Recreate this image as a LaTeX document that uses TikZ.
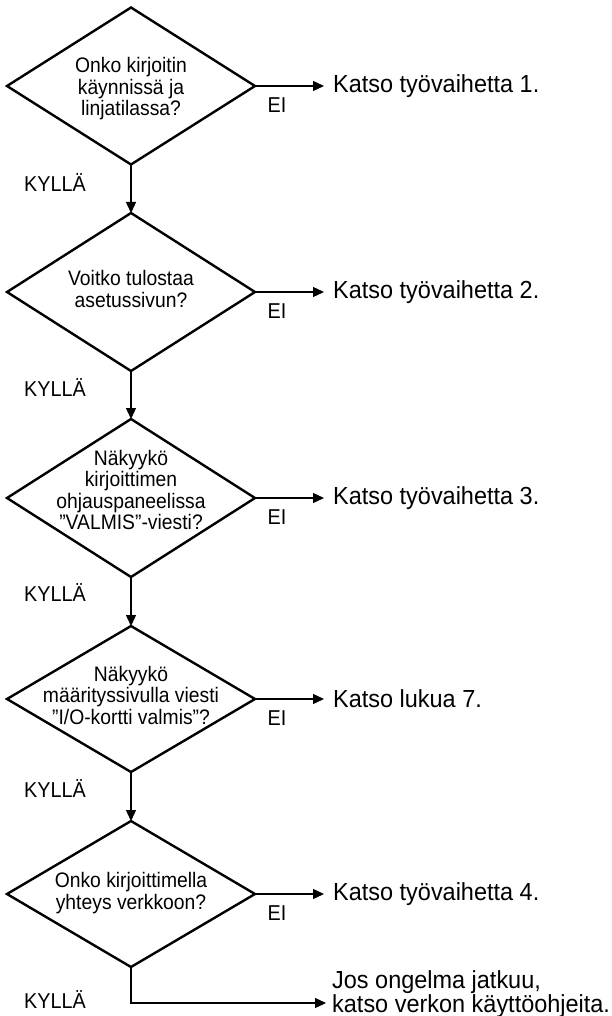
\documentclass[tikz,border=0pt]{standalone}
\usepackage{fontspec}
\setmainfont{Liberation Sans}
\newfontfamily\condfont{Liberation Sans}[FakeStretch=0.92]
\newfontfamily\resfont{Liberation Sans}[FakeStretch=0.95]
\usetikzlibrary{shapes.geometric,arrows.meta}
\begin{document}
\begin{tikzpicture}[x=1pt,y=-1pt,
  dia/.style={draw=black, line width=2.4pt, shape=diamond, minimum width=248pt, inner sep=0pt, outer sep=0pt},
  qtext/.style={align=center, font=\condfont\fontsize{21}{21.5}\selectfont, inner sep=0pt},
  res/.style={anchor=west, font=\resfont\fontsize{24.7}{23}\selectfont, inner sep=0pt, align=left},
  lbl/.style={font=\condfont\fontsize{21.5}{21}\selectfont, inner sep=0pt},
  arr/.style={draw=black, line width=1.3pt, -{Triangle[length=11pt,width=10pt]}},
]
\useasboundingbox (0,0) rectangle (611,1016);

% diamonds
\node[dia, minimum height=157pt] (d1) at (131,86) {};
\node[dia, minimum height=158pt] (d2) at (131,292) {};
\node[dia, minimum height=158pt] (d3) at (131,498) {};
\node[dia, minimum height=146pt] (d4) at (131,699) {};
\node[dia, minimum height=146pt] (d5) at (131,894) {};

% question texts
\node[qtext] (q1) at (131,89) {Onko kirjoitin\\käynnissä ja\\linjatilassa?};
\node[qtext] (q2) at (131,289) {Voitko tulostaa\\asetussivun?};
\node[qtext] (q3) at (131,490) {Näkyykö\\kirjoittimen\\ohjauspaneelissa\\”VALMIS”-viesti?};
\node[qtext] (q4) at (131,695) {Näkyykö\\määrityssivulla viesti\\”I/O-kortti valmis”?};
\node[qtext] (q5) at (131,893) {Onko kirjoittimella\\yhteys verkkoon?};

% result texts
\node[res] (t1) at (333,86) {Katso työvaihetta 1.};
\node[res] (t2) at (333,292) {Katso työvaihetta 2.};
\node[res] (t3) at (333,498) {Katso työvaihetta 3.};
\node[res] (t4) at (333,699) {Katso lukua 7.};
\node[res] (t5) at (333,894) {Katso työvaihetta 4.};
\node[res] (t6) at (332,994) {Jos ongelma jatkuu,\\katso verkon käyttöohjeita.};

% EI labels
\node[lbl] (e1) at (277,105) {EI};
\node[lbl] (e2) at (277,311) {EI};
\node[lbl] (e3) at (277,517) {EI};
\node[lbl] (e4) at (277,718) {EI};
\node[lbl] (e5) at (277,913) {EI};

% KYLLÄ labels
\node[lbl] (k1) at (55,183) {KYLLÄ};
\node[lbl] (k2) at (55,388) {KYLLÄ};
\node[lbl] (k3) at (55,592) {KYLLÄ};
\node[lbl] (k4) at (55,788) {KYLLÄ};
\node[lbl] (k5) at (55,999) {KYLLÄ};

% connectors
\draw[arr] (d1.south) -- (d2.north);
\draw[arr] (d2.south) -- (d3.north);
\draw[arr] (d3.south) -- (d4.north);
\draw[arr] (d4.south) -- (d5.north);

\draw[arr, shorten >=9pt] (d1.east) -- (t1.west);
\draw[arr, shorten >=9pt] (d2.east) -- (t2.west);
\draw[arr, shorten >=9pt] (d3.east) -- (t3.west);
\draw[arr, shorten >=9pt] (d4.east) -- (t4.west);
\draw[arr, shorten >=9pt] (d5.east) -- (t5.west);

\coordinate (fin) at (326,1003);
\draw[arr] (d5.south) |- (fin);
\end{tikzpicture}
\end{document}
